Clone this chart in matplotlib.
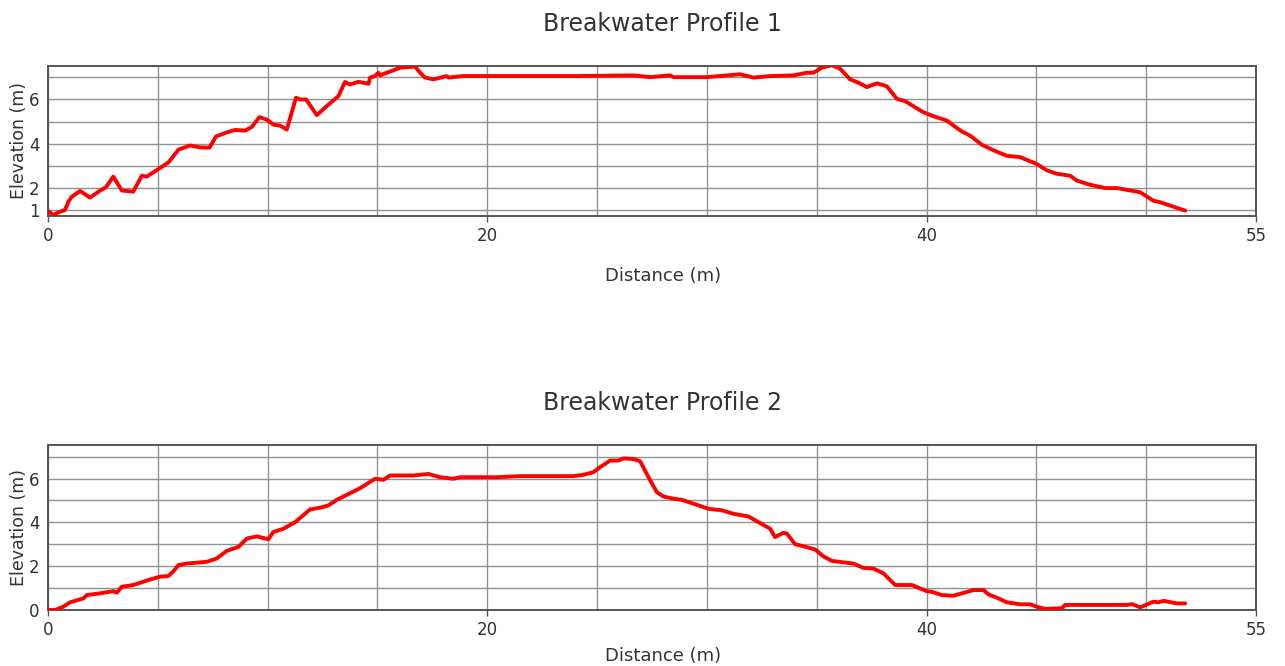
import matplotlib
matplotlib.use("Agg")
import matplotlib.pyplot as plt
from matplotlib.ticker import FixedLocator, MultipleLocator

# profile 1 (distance m, elevation m)
dist1 = [0.0, 0.24, 0.47, 0.77, 0.93, 1.08, 1.46, 1.91, 2.37, 2.64, 2.97, 3.36, 3.88,
         4.27, 4.49, 5.10, 5.48, 5.94, 6.47, 6.92, 7.35, 7.65, 8.14, 8.52, 8.97, 9.28,
         9.62, 9.96, 10.26, 10.56, 10.87, 11.29, 11.48, 11.75, 12.24, 12.69, 13.22,
         13.52, 13.75, 14.13, 14.59, 14.66, 14.89, 15.04, 15.12, 15.42, 15.65, 16.03,
         16.71, 16.94, 17.17, 17.55, 18.16, 18.23, 18.91, 20.0, 22.0, 24.0, 26.65,
         27.41, 28.33, 28.48, 30.0, 31.51, 32.12, 32.88, 33.94, 34.55, 34.85, 35.23,
         35.69, 36.07, 36.52, 36.9, 37.28, 37.74, 38.19, 38.65, 39.03, 39.86, 40.32,
         40.92, 41.38, 41.6, 41.99, 42.52, 43.05, 43.66, 44.26, 45.02, 45.48, 45.93,
         46.54, 46.84, 47.45, 48.13, 48.67, 49.73, 50.33, 50.64, 51.78]
elev1 = [0.95, 0.77, 0.89, 1.0, 1.38, 1.6, 1.86, 1.56, 1.88, 2.03, 2.51, 1.88, 1.83,
         2.55, 2.51, 2.9, 3.15, 3.73, 3.92, 3.83, 3.82, 4.33, 4.51, 4.62, 4.59, 4.76,
         5.2, 5.09, 4.86, 4.82, 4.64, 6.08, 6.0, 6.0, 5.29, 5.7, 6.15,
         6.79, 6.68, 6.8, 6.71, 6.99, 7.06, 7.21, 7.09, 7.21, 7.29, 7.44,
         7.49, 7.21, 6.99, 6.91, 7.06, 6.99, 7.06, 7.06, 7.06, 7.06, 7.09,
         7.01, 7.09, 7.01, 7.01, 7.14, 6.99, 7.06, 7.09, 7.21, 7.21, 7.44,
         7.55, 7.39, 6.91, 6.76, 6.56, 6.73, 6.6, 6.03, 5.92, 5.42, 5.24,
         5.05, 4.71, 4.56, 4.36, 3.95, 3.7, 3.45, 3.39, 3.08, 2.79, 2.64,
         2.55, 2.33, 2.14, 1.99, 1.99, 1.8, 1.42, 1.35, 0.97]

# profile 2
dist2 = [0.0, 0.32, 0.7, 1.0, 1.61, 1.76, 2.37, 2.97, 3.13, 3.36, 3.88, 4.64, 5.1,
         5.48, 5.71, 5.94, 6.32, 7.23, 7.68, 8.14, 8.67, 9.05, 9.5, 10.03, 10.26,
         10.72, 11.25, 11.93, 12.39, 12.76, 13.15, 13.75, 14.21, 14.89, 15.27, 15.57,
         16.63, 17.32, 17.85, 18.46, 18.76, 20.43, 21.49, 23.92, 24.37, 24.83, 25.14,
         25.59, 25.97, 26.2, 26.65, 26.96, 27.34, 27.72, 28.02, 28.48, 28.86, 29.39,
         30.07, 30.68, 31.21, 31.89, 32.27, 32.88, 33.1, 33.48, 33.64, 34.02, 34.39,
         34.93, 35.3, 35.69, 36.67, 37.13, 37.58, 38.04, 38.57, 39.33, 40.01, 40.24,
         40.7, 41.22, 42.14, 42.6, 42.82, 43.2, 43.66, 44.26, 44.72, 45.02, 45.4,
         46.16, 46.31, 49.12, 49.35, 49.73, 50.33, 50.56, 50.79, 51.39, 51.78]
elev2 = [0.0, 0.0, 0.15, 0.35, 0.53, 0.68, 0.76, 0.86, 0.79, 1.06, 1.14, 1.39, 1.52,
         1.55, 1.77, 2.05, 2.12, 2.2, 2.35, 2.7, 2.88, 3.26, 3.36, 3.23, 3.56,
         3.71, 4.01, 4.59, 4.67, 4.77, 5.03, 5.33, 5.56, 5.99, 5.94, 6.14,
         6.14, 6.21, 6.06, 5.99, 6.06, 6.06, 6.11, 6.11, 6.17, 6.29, 6.52,
         6.82, 6.82, 6.92, 6.89, 6.79, 6.06, 5.38, 5.18, 5.08, 5.03, 4.85,
         4.62, 4.55, 4.39, 4.27, 4.05, 3.71, 3.33, 3.52, 3.49, 3.0, 2.91,
         2.76, 2.45, 2.24, 2.12, 1.92, 1.89, 1.67, 1.14, 1.14, 0.86, 0.83,
         0.68, 0.65, 0.91, 0.91, 0.71, 0.56, 0.35, 0.26, 0.26, 0.15, 0.05,
         0.08, 0.23, 0.23, 0.27, 0.12, 0.38, 0.35, 0.42, 0.3, 0.3]

profiles = [
    ("Breakwater Profile 1", dist1, elev1, (0.74, 7.53), [1, 2, 4, 6], 16),
    ("Breakwater Profile 2", dist2, elev2, (0.0, 7.53), [0, 2, 4, 6], 6),
]
x_labels = [0, 20, 40, 55]

fig = plt.figure(figsize=(12.85, 6.66), dpi=100)
boxes = [[0.0374, 0.6761, 0.9400, 0.2253], [0.0374, 0.0841, 0.9400, 0.2477]]

for box, (title, d, z, ylim, yt, xpad) in zip(boxes, profiles):
    ax = fig.add_axes(box)
    ax.plot(d, z, color="#ff0000", lw=2.8, solid_capstyle="round", zorder=3)
    ax.set_xlim(0, 55)
    ax.set_ylim(*ylim)
    ax.xaxis.set_major_locator(FixedLocator(x_labels))
    ax.xaxis.set_minor_locator(MultipleLocator(5))
    ax.yaxis.set_major_locator(FixedLocator(yt))
    ax.yaxis.set_minor_locator(MultipleLocator(1))
    ax.grid(True, which="both", color="#929292", lw=1.0)
    ax.set_axisbelow(True)
    ax.tick_params(axis="x", which="major", length=4, width=1, color="#555555",
                   labelsize=12, labelcolor="#333333", pad=4)
    ax.tick_params(axis="both", which="minor", length=0)
    ax.tick_params(axis="y", which="major", length=0, labelsize=12,
                   labelcolor="#333333", pad=6)
    for s in ax.spines.values():
        s.set_color("#555555")
        s.set_linewidth(1.4)
    ax.set_title(title, fontsize=17, color="#333333", pad=25, x=0.509)
    ax.set_xlabel("Distance (m)", fontsize=13, color="#333333", labelpad=xpad, x=0.509)
    ax.set_ylabel("Elevation (m)", fontsize=12.5, color="#333333", labelpad=1)

fig.savefig("out.png", dpi=100)
